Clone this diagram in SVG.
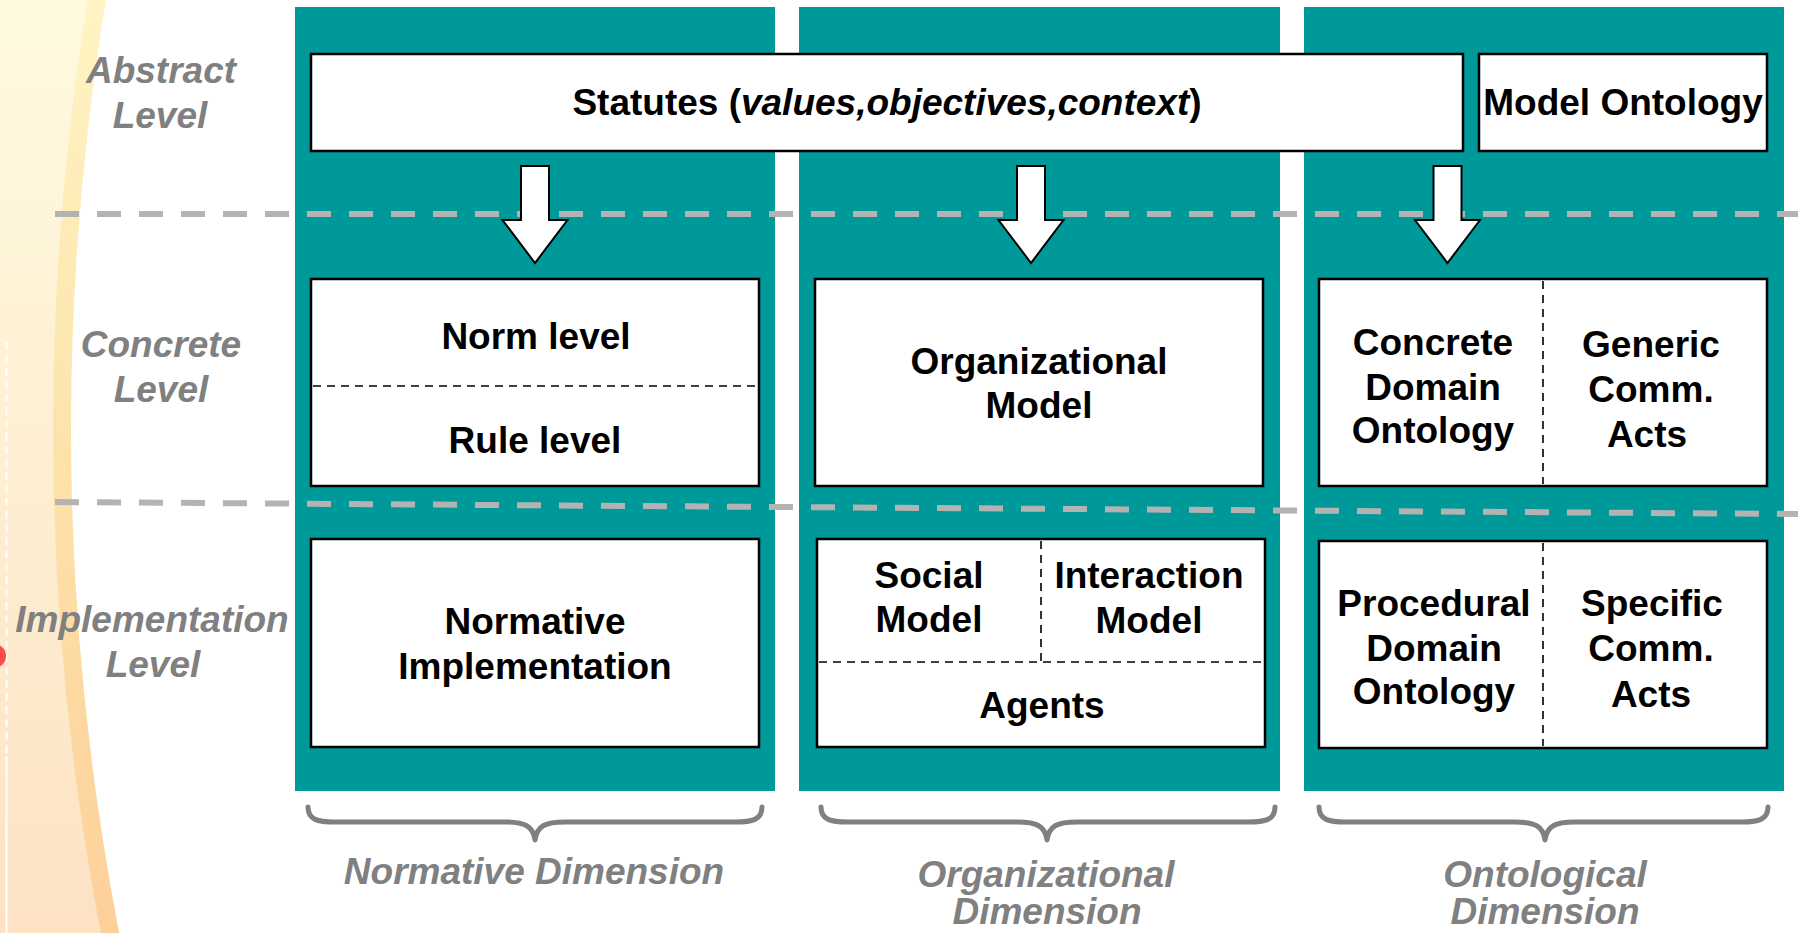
<svg xmlns="http://www.w3.org/2000/svg" width="1798" height="933" viewBox="0 0 1798 933">
<defs>
<linearGradient id="bgFill" gradientUnits="userSpaceOnUse" x1="0" y1="0" x2="0" y2="933">
<stop offset="0" stop-color="#fffae0"/>
<stop offset="0.5" stop-color="#feefd2"/>
<stop offset="1" stop-color="#fde2c4"/>
</linearGradient>
<linearGradient id="bandFill" gradientUnits="userSpaceOnUse" x1="0" y1="0" x2="0" y2="933">
<stop offset="0" stop-color="#fff4c4"/>
<stop offset="0.5" stop-color="#fde2aa"/>
<stop offset="1" stop-color="#fdd09a"/>
</linearGradient>
<style>
.panel{fill:#009999}
.box{fill:#ffffff;stroke:#000000;stroke-width:2.5}
.inner{stroke:#000000;stroke-width:1.6;stroke-dasharray:8 6;fill:none}
.level{stroke:#b3b3b3;stroke-width:6;stroke-dasharray:24 18;fill:none}
.arrow{fill:#ffffff;stroke:#000000;stroke-width:2}
.brace{fill:none;stroke:#808080;stroke-width:5;stroke-linecap:round;stroke-linejoin:round}
.t{font-family:"Liberation Sans",Arial,sans-serif;font-weight:bold;font-size:37px;fill:#000000;text-anchor:middle}
.g{font-family:"Liberation Sans",Arial,sans-serif;font-weight:bold;font-style:italic;font-size:37px;fill:#808080;text-anchor:middle}
</style>
</defs>
<rect x="0" y="0" width="1798" height="933" fill="#ffffff"/>
<g id="background">
<rect x="0" y="0" width="200" height="933" fill="url(#bgFill)"/>
<circle cx="2729" cy="429" r="2667" fill="#ffffff" stroke="url(#bandFill)" stroke-width="18"/>
<line x1="6.5" y1="342" x2="6.5" y2="756" stroke="#ffffff" stroke-width="2" stroke-dasharray="8 5"/>
<line x1="6.5" y1="756" x2="6.5" y2="933" stroke="#ffffff" stroke-width="2"/>
<circle cx="-6" cy="656" r="12" fill="#ff4a4a"/>
</g>
<g id="panels">
<rect class="panel" x="295" y="7" width="480" height="784"/>
<rect class="panel" x="799" y="7" width="481" height="784"/>
<rect class="panel" x="1304" y="7" width="480" height="784"/>
</g>
<g id="level-lines">
<line class="level" x1="55" y1="214" x2="1798" y2="214"/>
<line class="level" x1="55" y1="502" x2="1798" y2="514"/>
</g>
<g id="level-labels">
<text class="g" x="161" y="83">Abstract</text>
<text class="g" x="160" y="128">Level</text>
<text class="g" x="161" y="357">Concrete</text>
<text class="g" x="161" y="402">Level</text>
<text class="g" x="152" y="632">Implementation</text>
<text class="g" x="153" y="677">Level</text>
</g>
<g id="statutes">
<rect class="box" x="311" y="54" width="1152" height="97"/>
<text class="t" x="887" y="115">Statutes (<tspan font-style="italic">values,objectives,context</tspan>)</text>
</g>
<g id="model-ontology">
<rect class="box" x="1479" y="54" width="288" height="97"/>
<text class="t" x="1623" y="115">Model Ontology</text>
</g>
<g id="connectors">
<path class="arrow" d="M521,166 H549 V220 H567.5 L535,263 L502.5,220 H521 Z"/>
<path class="arrow" d="M1017,166 H1045 V220 H1063.5 L1031,263 L998.5,220 H1017 Z"/>
<path class="arrow" d="M1433.5,166 H1461.5 V220 H1480 L1447.5,263 L1415,220 H1433.5 Z"/>
</g>
<g id="norm-rule">
<rect class="box" x="311" y="279" width="448" height="207"/>
<line class="inner" x1="313" y1="386" x2="757" y2="386"/>
<text class="t" x="536" y="349">Norm level</text>
<text class="t" x="535" y="453">Rule level</text>
</g>
<g id="organizational-model">
<rect class="box" x="815" y="279" width="448" height="207"/>
<text class="t" x="1039" y="374">Organizational</text>
<text class="t" x="1039" y="418">Model</text>
</g>
<g id="concrete-ontology">
<rect class="box" x="1319" y="279" width="448" height="207"/>
<line class="inner" x1="1543" y1="281" x2="1543" y2="484"/>
<text class="t" x="1433" y="355">Concrete</text>
<text class="t" x="1433" y="400">Domain</text>
<text class="t" x="1433" y="443">Ontology</text>
<text class="t" x="1651" y="357">Generic</text>
<text class="t" x="1651" y="402">Comm.</text>
<text class="t" x="1647" y="447">Acts</text>
</g>
<g id="normative-implementation">
<rect class="box" x="311" y="539" width="448" height="208"/>
<text class="t" x="535" y="634">Normative</text>
<text class="t" x="535" y="679">Implementation</text>
</g>
<g id="social-interaction-agents">
<rect class="box" x="817" y="539" width="448" height="208"/>
<line class="inner" x1="1041" y1="541" x2="1041" y2="662"/>
<line class="inner" x1="819" y1="662" x2="1263" y2="662"/>
<text class="t" x="929" y="588">Social</text>
<text class="t" x="929" y="632">Model</text>
<text class="t" x="1149" y="588">Interaction</text>
<text class="t" x="1149" y="633">Model</text>
<text class="t" x="1042" y="718">Agents</text>
</g>
<g id="procedural-ontology">
<rect class="box" x="1319" y="541" width="448" height="207"/>
<line class="inner" x1="1543" y1="543" x2="1543" y2="746"/>
<text class="t" x="1434" y="616">Procedural</text>
<text class="t" x="1434" y="661">Domain</text>
<text class="t" x="1434" y="704">Ontology</text>
<text class="t" x="1652" y="616">Specific</text>
<text class="t" x="1651" y="661">Comm.</text>
<text class="t" x="1651" y="707">Acts</text>
</g>
<g id="braces">
<path class="brace" d="M308,807 C308,820 318,822 335,822 H505 C525,822 533,826 535,840 C537,826 545,822 565,822 H735 C752,822 762,820 762,807"/>
<path class="brace" d="M821,807 C821,820 831,822 848,822 H1017 C1037,822 1045,826 1047,840 C1049,826 1057,822 1077,822 H1248 C1265,822 1275,820 1275,807"/>
<path class="brace" d="M1319,807 C1319,820 1329,822 1346,822 H1515 C1535,822 1543,826 1545,840 C1547,826 1555,822 1575,822 H1741 C1758,822 1768,820 1768,807"/>
</g>
<g id="dimension-labels">
<text class="g" x="534" y="884">Normative Dimension</text>
<text class="g" x="1046" y="887">Organizational</text>
<text class="g" x="1047" y="924">Dimension</text>
<text class="g" x="1545" y="887">Ontological</text>
<text class="g" x="1545" y="924">Dimension</text>
</g>
</svg>
